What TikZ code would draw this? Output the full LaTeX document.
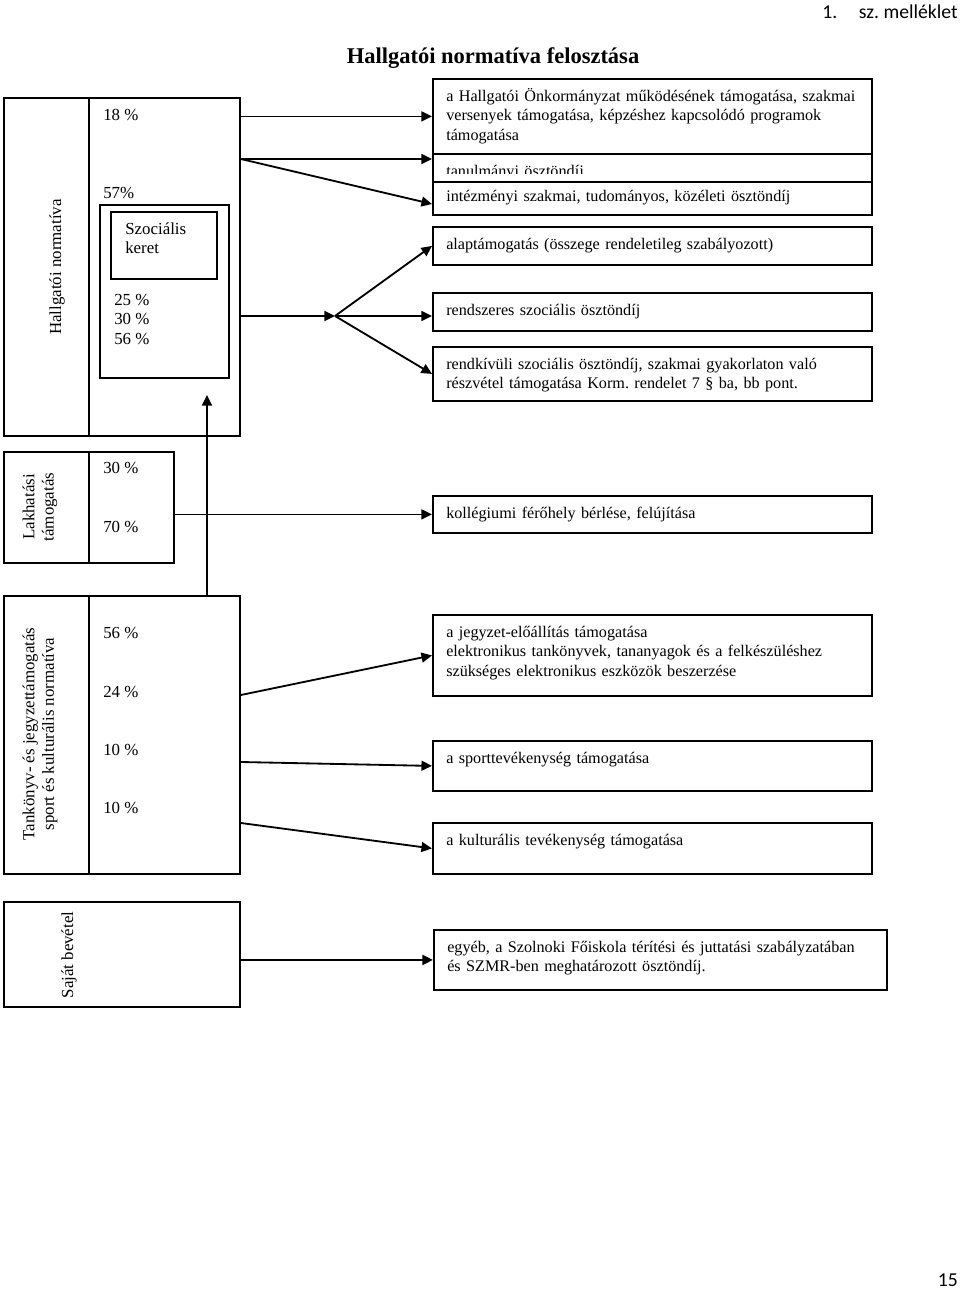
\documentclass[tikz,border=0pt]{standalone}
\usepackage{fontspec}
\setmainfont{Liberation Serif}
\newfontfamily\calibri{Carlito}
\usetikzlibrary{positioning,arrows.meta}
\frenchspacing

\begin{document}
\begin{tikzpicture}[x=0.025cm, y=-0.025cm,
    box/.style={draw, rectangle, line width=1.3pt, inner sep=0pt, anchor=north west},
    boxtext/.style={anchor=north west, inner sep=0pt, text width=11cm, align=left, text height=8.2pt,
        font=\fontsize{11.5}{13.8}\selectfont},
    side/.style={rotate=90, inner sep=0pt, align=center, font=\fontsize{12}{13.8}\selectfont},
    pct/.style={anchor=west, inner sep=0pt, font=\fontsize{12}{14}\selectfont},
    arr/.style={-{Triangle[length=7.5pt, width=7pt]}, line width=1.3pt}]

    \useasboundingbox (0,0) rectangle (960,1292);

    % heading
    \node[anchor=east, inner sep=0pt, font=\calibri\fontsize{14}{16}\selectfont] (annex) at (958,12) {1.\hspace{1.1em}sz. melléklet};
    \node[font=\bfseries\fontsize{16}{18}\selectfont] (title) at (493,58) {Hallgatói normatíva felosztása};
    \node[anchor=east, inner sep=0pt, font=\calibri\fontsize{14}{16}\selectfont] (page) at (958,1280) {15};

    % left column
    \node[box, minimum width=2.125cm, minimum height=8.45cm] (hnLabel) at (3,97) {};
    \node[box, minimum width=3.775cm, minimum height=8.45cm] (hnPct) at (88,97) {};
    \node[side] (hnText) at (57,267) {Hallgatói normatíva};
    \node[pct] (p18) at (103,115) {18 \%};
    \node[pct] (p57) at (103,193) {57\%};
    \node[box, minimum width=3.225cm, minimum height=4.325cm] (szoc) at (99,204) {};
    \node[box, minimum width=2.65cm, minimum height=1.675cm] (keret) at (110,211) {};
    \node[anchor=north west, inner sep=0pt, align=left, font=\fontsize{12}{13.8}\selectfont] (keretText) at (125,222) {Szociális\\keret};
    \node[anchor=north west, inner sep=0pt, align=left, font=\fontsize{12}{13.8}\selectfont] (szocPct) at (114,294) {25 \%\\30 \%\\56 \%};

    \node[box, minimum width=2.125cm, minimum height=2.775cm] (lakhLabel) at (3,451) {};
    \node[box, minimum width=2.125cm, minimum height=2.775cm] (lakhPct) at (88,451) {};
    \node[side] (lakhText) at (40,507) {Lakhatási\\támogatás};
    \node[pct] (p30) at (103,468) {30 \%};
    \node[pct] (p70) at (103,527) {70 \%};

    \node[box, minimum width=2.125cm, minimum height=6.95cm] (tankLabel) at (3,595) {};
    \node[box, minimum width=3.775cm, minimum height=6.95cm] (tankPct) at (88,595) {};
    \node[side] (tankText) at (40,734) {Tankönyv- és jegyzettámogatás\\sport és kulturális normatíva};
    \node[pct] (p56) at (103,633) {56 \%};
    \node[pct] (p24) at (103,692) {24 \%};
    \node[pct] (p10a) at (103,750) {10 \%};
    \node[pct] (p10b) at (103,808) {10 \%};

    \node[box, minimum width=5.9cm, minimum height=2.625cm] (sajat) at (3,901) {};
    \node[side] (sajatText) at (69,955) {Saját bevétel};

    % right column
    \node[box, minimum width=10.975cm, minimum height=1.875cm] (onkorm) at (432,78) {};
    \node[boxtext] (onkormText) at ([shift={(14,11.5)}]onkorm.north west)
        {a Hallgatói Önkormányzat működésének támogatása, szakmai\\versenyek támogatása, képzéshez kapcsolódó programok\\támogatása};
    \node[box, minimum width=10.975cm, minimum height=0.7cm] (tanul) at (432,153) {};
    \begin{scope}
        \clip (tanul.north west) rectangle (871,174);
        \node[boxtext] (tanulText) at ([shift={(14,11.5)}]tanul.north west) {tanulmányi ösztöndíj};
    \end{scope}
    \node[box, minimum width=10.975cm, minimum height=0.825cm] (intezm) at (432,181) {};
    \node[boxtext] (intezmText) at ([shift={(14,9)}]intezm.north west) {intézményi szakmai, tudományos, közéleti ösztöndíj};
    \node[box, minimum width=10.975cm, minimum height=0.95cm] (alap) at (432,226) {};
    \node[boxtext] (alapText) at ([shift={(14,11.5)}]alap.north west) {alaptámogatás (összege rendeletileg szabályozott)};
    \node[box, minimum width=10.975cm, minimum height=0.95cm] (rendsz) at (432,292) {};
    \node[boxtext] (rendszText) at ([shift={(14,11.5)}]rendsz.north west) {rendszeres szociális ösztöndíj};
    \node[box, minimum width=10.975cm, minimum height=1.35cm] (rendkiv) at (432,346) {};
    \node[boxtext] (rendkivText) at ([shift={(14,11.5)}]rendkiv.north west)
        {rendkívüli szociális ösztöndíj, szakmai gyakorlaton való\\részvétel támogatása Korm. rendelet 7 § ba, bb pont.};
    \node[box, minimum width=10.975cm, minimum height=0.925cm] (koll) at (432,495) {};
    \node[boxtext] (kollText) at ([shift={(14,11.5)}]koll.north west) {kollégiumi férőhely bérlése, felújítása};
    \node[box, minimum width=10.975cm, minimum height=2.025cm] (jegyzet) at (432,614) {};
    \node[boxtext] (jegyzetText) at ([shift={(14,11.5)}]jegyzet.north west)
        {a jegyzet-előállítás támogatása\\elektronikus tankönyvek, tananyagok és a felkészüléshez\\szükséges elektronikus eszközök beszerzése};
    \node[box, minimum width=10.975cm, minimum height=1.25cm] (sport) at (432,740) {};
    \node[boxtext] (sportText) at ([shift={(14,11.5)}]sport.north west) {a sporttevékenység támogatása};
    \node[box, minimum width=10.975cm, minimum height=1.275cm] (kult) at (432,822) {};
    \node[boxtext] (kultText) at ([shift={(14,11.5)}]kult.north west) {a kulturális tevékenység támogatása};
    \node[box, minimum width=11.325cm, minimum height=1.5cm] (egyeb) at (433,929) {};
    \node[boxtext] (egyebText) at ([shift={(14,11.5)}]egyeb.north west)
        {egyéb, a Szolnoki Főiskola térítési és juttatási szabályzatában\\és SZMR-ben meghatározott ösztöndíj.};

    % connectors
    \coordinate (hnSplit) at (hnPct.east |- 0,159);
    \coordinate (branch) at (335,316);
    \coordinate (upEnd) at (207,395);
    \draw[arr] (hnPct.east |- onkorm.west) -- (onkorm.west);
    \draw[arr] (hnSplit) -- (hnSplit -| tanul.west);
    \draw[arr] (hnSplit) -- ([yshift=-0.14cm]intezm.west);
    \draw[arr] (hnPct.east |- branch) -- (branch);
    \draw[arr] (branch) -- (alap.west);
    \draw[arr] (branch) -- (branch -| rendsz.west);
    \draw[arr] (branch) -- (rendkiv.west);
    \draw[arr] (tankPct.north -| upEnd) -- (upEnd);
    \draw[arr] (lakhPct.east |- koll.west) -- (koll.west);
    \draw[arr] (tankPct.east |- 0,695) -- (jegyzet.west);
    \draw[arr] (tankPct.east |- 0,762) -- (sport.west);
    \draw[arr] (tankPct.east |- 0,823) -- (kult.west);
    \draw[arr, line width=1.8pt] (sajat.east |- egyeb.west) -- (egyeb.west);
\end{tikzpicture}
\end{document}
